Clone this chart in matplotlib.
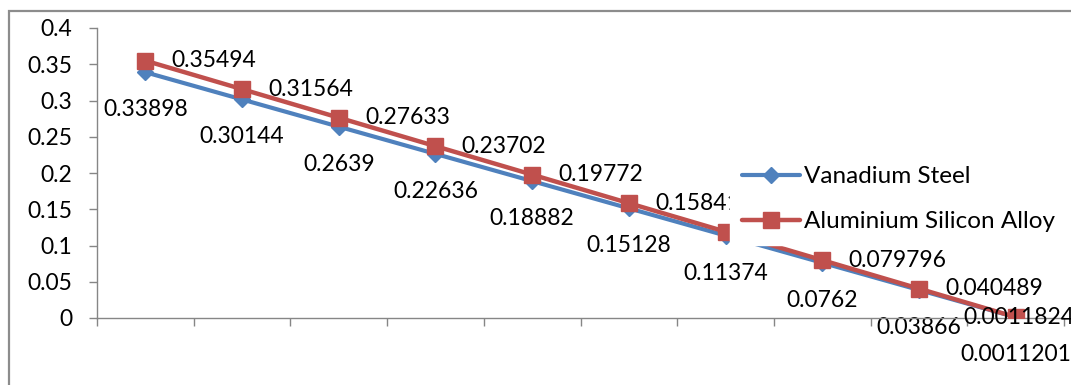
import matplotlib
matplotlib.use("Agg")
import matplotlib.pyplot as plt
from matplotlib.patches import Rectangle

categories = list(range(1, 11))
vanadium = [0.33898, 0.30144, 0.2639, 0.22636, 0.18882, 0.15128, 0.11374, 0.0762, 0.03866, 0.0011201]
alsi = [0.35494, 0.31564, 0.27633, 0.23702, 0.19772, 0.15841, 0.1191, 0.079796, 0.040489, 0.0011824]
vanadium_labels = ["0.33898", "0.30144", "0.2639", "0.22636", "0.18882", "0.15128", "0.11374", "0.0762", "0.03866", "0.0011201"]
alsi_labels = ["0.35494", "0.31564", "0.27633", "0.23702", "0.19772", "0.15841", "0.1191", "0.079796", "0.040489", "0.0011824"]
yticks = [0, 0.05, 0.1, 0.15, 0.2, 0.25, 0.3, 0.35, 0.4]
ytick_labels = ["0", "0.05", "0.1", "0.15", "0.2", "0.25", "0.3", "0.35", "0.4"]

plt.rcParams['font.family'] = ['Lato', 'DejaVu Sans']
FS = 16.5
LFS = 17.5
W, H = 1071, 385
fig = plt.figure(figsize=(W / 100, H / 100), dpi=100)
fig.patch.set_facecolor('white')

# chart-area border
fig.patches.append(Rectangle((9 / W, -0.1), 1.2, (H - 11) / H + 0.1, transform=fig.transFigure,
                             fill=False, edgecolor='#8c8c8c', linewidth=1.6))

ax = fig.add_axes([97 / W, (H - 318) / H, (1064 - 97) / W, (318 - 28) / H])
x = list(range(len(categories)))
BLUE = '#4F81BD'
RED = '#C0504D'
ax.plot(x, vanadium, color=BLUE, lw=3.0, marker='D', ms=8.5, mec=BLUE, mfc=BLUE,
        label='Vanadium Steel', zorder=3, solid_capstyle='round')
ax.plot(x, alsi, color=RED, lw=3.2, marker='s', ms=12, mec=RED, mfc=RED,
        label='Aluminium Silicon Alloy', zorder=3.1, solid_capstyle='round')

ax.set_xlim(-0.5, len(categories) - 0.5)
ax.set_ylim(0, 0.4)
ax.set_yticks(yticks)
ax.set_yticklabels(ytick_labels)
ax.set_xticks([i - 0.5 for i in range(len(categories) + 1)])
ax.set_xticklabels([])
for s in ['top', 'right']:
    ax.spines[s].set_visible(False)
for s in ['left', 'bottom']:
    ax.spines[s].set_color('#868686')
    ax.spines[s].set_linewidth(1.0)
ax.tick_params(axis='both', direction='out', length=6, width=1.0, color='#868686',
               labelsize=FS, labelcolor='black')
ax.tick_params(axis='y', pad=12)

for i, (v, lab) in enumerate(zip(vanadium, vanadium_labels)):
    ax.annotate(lab, (x[i], v), xytext=(0, -27), textcoords='offset points',
                ha='center', va='center', fontsize=FS, zorder=2.5, annotation_clip=False)
for i, (v, lab) in enumerate(zip(alsi, alsi_labels)):
    if i == len(alsi) - 1:
        ax.annotate(lab, (x[i], v), xytext=(42, 0), textcoords='offset points',
                    ha='right', va='center', fontsize=FS, zorder=4, annotation_clip=False)
    else:
        ax.annotate(lab, (x[i], v), xytext=(19, 0), textcoords='offset points',
                    ha='left', va='center', fontsize=FS, zorder=2.5, annotation_clip=False)

leg = ax.legend(loc='upper left', bbox_to_anchor=(730 / W, (H - 154) / H),
                bbox_transform=fig.transFigure, frameon=True, fontsize=LFS,
                handlelength=2.4, handletextpad=0.15, labelspacing=1.0,
                borderpad=0.5, borderaxespad=0)
leg.get_frame().set_facecolor('white')
leg.get_frame().set_edgecolor('white')
leg.get_frame().set_alpha(1)
leg.get_frame().set_boxstyle('square', pad=0)
leg.set_zorder(5)

fig.savefig('out.png', dpi=100)
